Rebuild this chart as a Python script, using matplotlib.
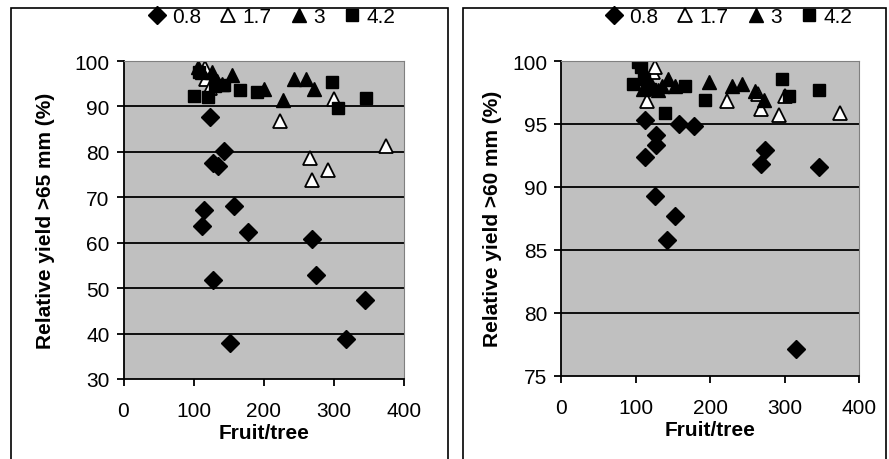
import matplotlib
matplotlib.use("Agg")
import matplotlib.pyplot as plt
from matplotlib.patches import Rectangle

plt.rcParams['font.family'] = ['Liberation Sans', 'DejaVu Sans']

series_labels = ["0.8", "1.7", "3", "4.2"]

# Left panel: relative yield >65 mm
l08_x = [112, 115, 124, 127, 128, 135, 143, 152, 157, 177, 269, 275, 318, 345]
l08_y = [63.7, 67.1, 87.7, 51.7, 77.6, 76.9, 80.1, 37.9, 68.1, 62.4, 60.9, 52.9, 38.8, 47.3]
l17_x = [116, 118, 123, 223, 266, 269, 292, 300, 375]
l17_y = [98.5, 96.0, 94.0, 86.9, 78.7, 73.7, 75.9, 91.7, 81.3]
l3_x = [106, 112, 126, 133, 140, 155, 200, 228, 243, 260, 271]
l3_y = [98.7, 97.5, 97.6, 95.5, 95.0, 97.0, 93.9, 91.4, 96.1, 96.1, 93.9]
l42_x = [100, 107, 121, 130, 143, 166, 191, 297, 306, 346]
l42_y = [92.3, 97.6, 92.1, 94.5, 94.7, 93.6, 93.2, 95.4, 89.7, 91.9]

# Right panel: relative yield >60 mm
r08_x = [113, 113, 126, 127, 128, 142, 153, 159, 178, 268, 274, 316, 346]
r08_y = [95.3, 92.4, 89.3, 94.1, 93.3, 85.8, 87.7, 95.0, 94.8, 91.8, 92.9, 77.1, 91.6]
r17_x = [115, 122, 124, 126, 223, 265, 268, 293, 301, 374]
r17_y = [96.8, 98.0, 99.1, 99.5, 96.8, 97.4, 96.2, 95.7, 97.2, 95.9]
r3_x = [110, 120, 130, 136, 143, 153, 199, 229, 243, 260, 272]
r3_y = [97.8, 98.2, 97.7, 98.0, 98.6, 98.0, 98.3, 98.0, 98.2, 97.6, 96.9]
r42_x = [97, 104, 108, 112, 120, 140, 166, 193, 296, 306, 346]
r42_y = [98.2, 99.9, 99.5, 98.6, 97.8, 95.9, 98.0, 96.9, 98.6, 97.2, 97.7]

x_ticks = [0, 100, 200, 300, 400]
left_yticks = [30, 40, 50, 60, 70, 80, 90, 100]
right_yticks = [75, 80, 85, 90, 95, 100]

styles = [
    dict(marker='D', mfc='black', mec='black', ms=9),
    dict(marker='^', mfc='white', mec='black', ms=10, mew=1.3),
    dict(marker='^', mfc='black', mec='black', ms=10),
    dict(marker='s', mfc='black', mec='black', ms=8.5),
]

FS = 15

fig = plt.figure(figsize=(8.89, 4.6), dpi=100)

# outer frames
fig.patches.append(Rectangle((11/889, -0.1), (448-11)/889, 1.1 - 9/460,
                             transform=fig.transFigure, fill=False, ec='black', lw=1.2))
fig.patches.append(Rectangle((463/889, -0.1), (886-463)/889, 1.1 - 9/460,
                             transform=fig.transFigure, fill=False, ec='black', lw=1.2))

ax1 = fig.add_axes([123.5/889, 80/460, 280.5/889, 318/460])
ax2 = fig.add_axes([561/889, 83.3/460, 298/889, 314.7/460])

def setup(ax, data, yticks, ylabel, legend_x, ylabelpad):
    ax.set_facecolor('#C0C0C0')
    for (xs, ys), st, lab in zip(data, styles, series_labels):
        ax.plot(xs, ys, linestyle='none', label=lab, **st)
    ax.set_xlim(0, 400)
    ax.set_ylim(yticks[0], yticks[-1])
    ax.set_xticks(x_ticks)
    ax.set_yticks(yticks)
    for y in yticks[1:-1]:
        ax.axhline(y, color='black', lw=1.3, zorder=1)
    ax.spines['left'].set_color('black')
    ax.spines['bottom'].set_color('black')
    ax.spines['left'].set_linewidth(1.3)
    ax.spines['bottom'].set_linewidth(1.3)
    ax.spines['top'].set_color('#808080')
    ax.spines['right'].set_color('#808080')
    ax.tick_params(direction='out', length=5, width=1.3, labelsize=FS, pad=5)
    ax.tick_params(axis='x', pad=11)
    ax.set_xlabel('Fruit/tree', fontsize=FS, fontweight='bold', labelpad=2)
    ax.set_ylabel(ylabel, fontsize=FS, fontweight='bold', labelpad=ylabelpad)
    ax.legend(loc='center', bbox_to_anchor=(legend_x, 1.14), ncol=4, frameon=False,
              fontsize=FS, handlelength=0.8, handletextpad=0.3, columnspacing=0.9,
              borderaxespad=0, borderpad=0)

setup(ax1, [(l08_x, l08_y), (l17_x, l17_y), (l3_x, l3_y), (l42_x, l42_y)],
      left_yticks, 'Relative yield >65 mm (%)', 0.53, 14)
setup(ax2, [(r08_x, r08_y), (r17_x, r17_y), (r3_x, r3_y), (r42_x, r42_y)],
      right_yticks, 'Relative yield >60 mm (%)', 0.565, 7)

fig.savefig('out.png', dpi=100)
